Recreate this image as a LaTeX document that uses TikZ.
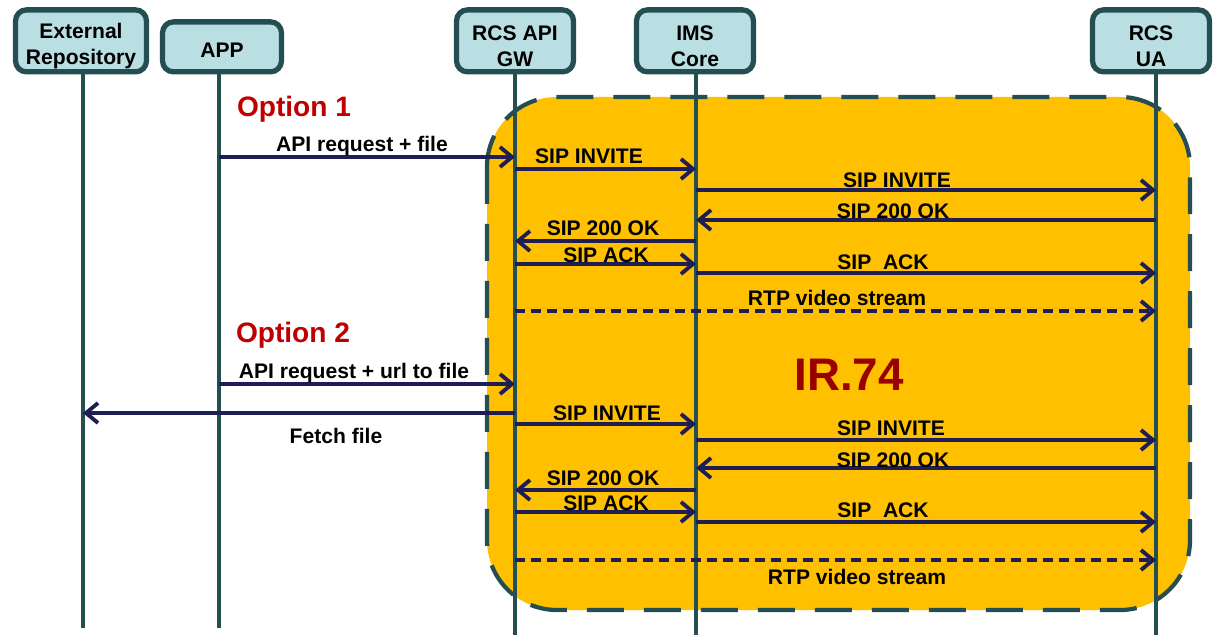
\documentclass[tikz,border=0pt]{standalone}
\usepackage{fontspec}
\setmainfont{Liberation Sans}
\usetikzlibrary{arrows.meta}

\definecolor{boxfill}{HTML}{B9DFE3}
\definecolor{boxline}{HTML}{244E52}
\definecolor{msgline}{HTML}{1E1E55}
\definecolor{irfill}{HTML}{FFC000}
\definecolor{optred}{HTML}{C00000}
\definecolor{irred}{HTML}{990000}

\tikzset{
  entity/.style = {draw=boxline, fill=boxfill, line width=3pt, rounded corners=0.22cm,
                   align=center, anchor=south, inner sep=0pt, minimum width=2.34cm,
                   minimum height=1.24cm, font=\fontsize{12}{14.4}\selectfont\bfseries},
  life/.style   = {draw=boxline, line width=2.6pt},
  msg/.style    = {draw=msgline, line width=2.2pt, -{Straight Barb[length=0.24cm,width=0.4cm]}},
  stream/.style = {msg, dash pattern=on 0.2cm off 0.12cm},
  lbl/.style    = {anchor=base, inner sep=0pt, font=\fontsize{12}{14.4}\selectfont\bfseries},
  opt/.style    = {anchor=base, inner sep=0pt, text=optred, font=\fontsize{16}{19}\selectfont\bfseries},
  irzone/.style = {fill=irfill, draw=boxline, line width=2.4pt, rounded corners=1.4cm,
                   dash pattern=on 0.74cm off 0.4cm}
}
\newcommand{\boxstrut}{\rule{0pt}{14.6pt}}

\begin{document}
\begin{tikzpicture}[x=0.02cm, y=-0.02cm]
  \useasboundingbox (0,0) rectangle (1216,635);

  % IR.74 area
  \draw[irzone] (487,97) rectangle (1190,610);
  \node[anchor=base, inner sep=0pt, text=irred, font=\fontsize{26}{30}\selectfont\bfseries] (ir) at (849,390) {IR.74};

  % lifelines
  \coordinate (ext) at (83,74);
  \coordinate (app) at (219,74);
  \coordinate (gw)  at (515,74);
  \coordinate (ims) at (696,74);
  \coordinate (ua)  at (1156,74);
  \draw[life] (ext) -- (ext |- 0,628);
  \draw[life] (app) -- (app |- 0,628);
  \draw[life] (gw)  -- (gw |- 0,635);
  \draw[life] (ims) -- (ims |- 0,635);
  \draw[life] (ua)  -- (ua |- 0,635);

  % entities
  \node[entity, minimum width=2.62cm] (extBox) at (81,74.5) {\boxstrut External\\Repository};
  \node[entity, minimum width=2.38cm, minimum height=1.0cm] (appBox) at (222,74.5) {\rule{0pt}{12.6pt}APP};
  \node[entity] (gwBox)  at (515,74.5)  {\boxstrut RCS API\\GW};
  \node[entity] (imsBox) at (695,74.5)  {\boxstrut IMS\\Core};
  \node[entity] (uaBox)  at (1151,74.5) {\boxstrut RCS\\UA};

  % option 1
  \node[opt] (opt1) at (294,116) {Option 1};
  \draw[msg] (app |- 0,157) -- (gw |- 0,157);
  \node[lbl] (m1) at (362,151.5) {API request + file};
  \draw[msg] (gw |- 0,169) -- (ims |- 0,169);
  \node[lbl] (m2) at (589,163.5) {SIP INVITE};
  \draw[msg] (ims |- 0,190) -- (ua |- 0,190);
  \node[lbl] (m3) at (897,187.5) {SIP INVITE};
  \draw[msg] (ua |- 0,220) -- (ims |- 0,220);
  \node[lbl] (m4) at (893,218.5) {SIP 200 OK};
  \draw[msg] (ims |- 0,241) -- (gw |- 0,241);
  \node[lbl] (m5) at (603,235.5) {SIP 200 OK};
  \draw[msg] (gw |- 0,264) -- (ims |- 0,264);
  \node[lbl] (m6) at (606,262.5) {SIP ACK};
  \draw[msg] (ims |- 0,273) -- (ua |- 0,273);
  \node[lbl] (m7) at (883,269.5) {SIP\ \ ACK};
  \draw[stream] (gw |- 0,311) -- (ua |- 0,311);
  \node[lbl] (m8) at (837,305.5) {RTP video stream};

  % option 2
  \node[opt] (opt2) at (293,342) {Option 2};
  \draw[msg] (app |- 0,384) -- (gw |- 0,384);
  \node[lbl] (n1) at (354,378.5) {API request + url to file};
  \draw[msg] (gw |- 0,413) -- (ext |- 0,413);
  \node[lbl] (n2) at (336,443.5) {Fetch file};
  \draw[msg] (gw |- 0,424) -- (ims |- 0,424);
  \node[lbl] (n3) at (607,420.5) {SIP INVITE};
  \draw[msg] (ims |- 0,440) -- (ua |- 0,440);
  \node[lbl] (n4) at (891,435.5) {SIP INVITE};
  \draw[msg] (ua |- 0,468) -- (ims |- 0,468);
  \node[lbl] (n5) at (893,467.5) {SIP 200 OK};
  \draw[msg] (ims |- 0,490) -- (gw |- 0,490);
  \node[lbl] (n6) at (603,485.5) {SIP 200 OK};
  \draw[msg] (gw |- 0,512) -- (ims |- 0,512);
  \node[lbl] (n7) at (606,510.5) {SIP ACK};
  \draw[msg] (ims |- 0,522) -- (ua |- 0,522);
  \node[lbl] (n8) at (883,517.5) {SIP\ \ ACK};
  \draw[stream] (gw |- 0,560) -- (ua |- 0,560);
  \node[lbl] (n9) at (857,584.5) {RTP video stream};
\end{tikzpicture}
\end{document}
